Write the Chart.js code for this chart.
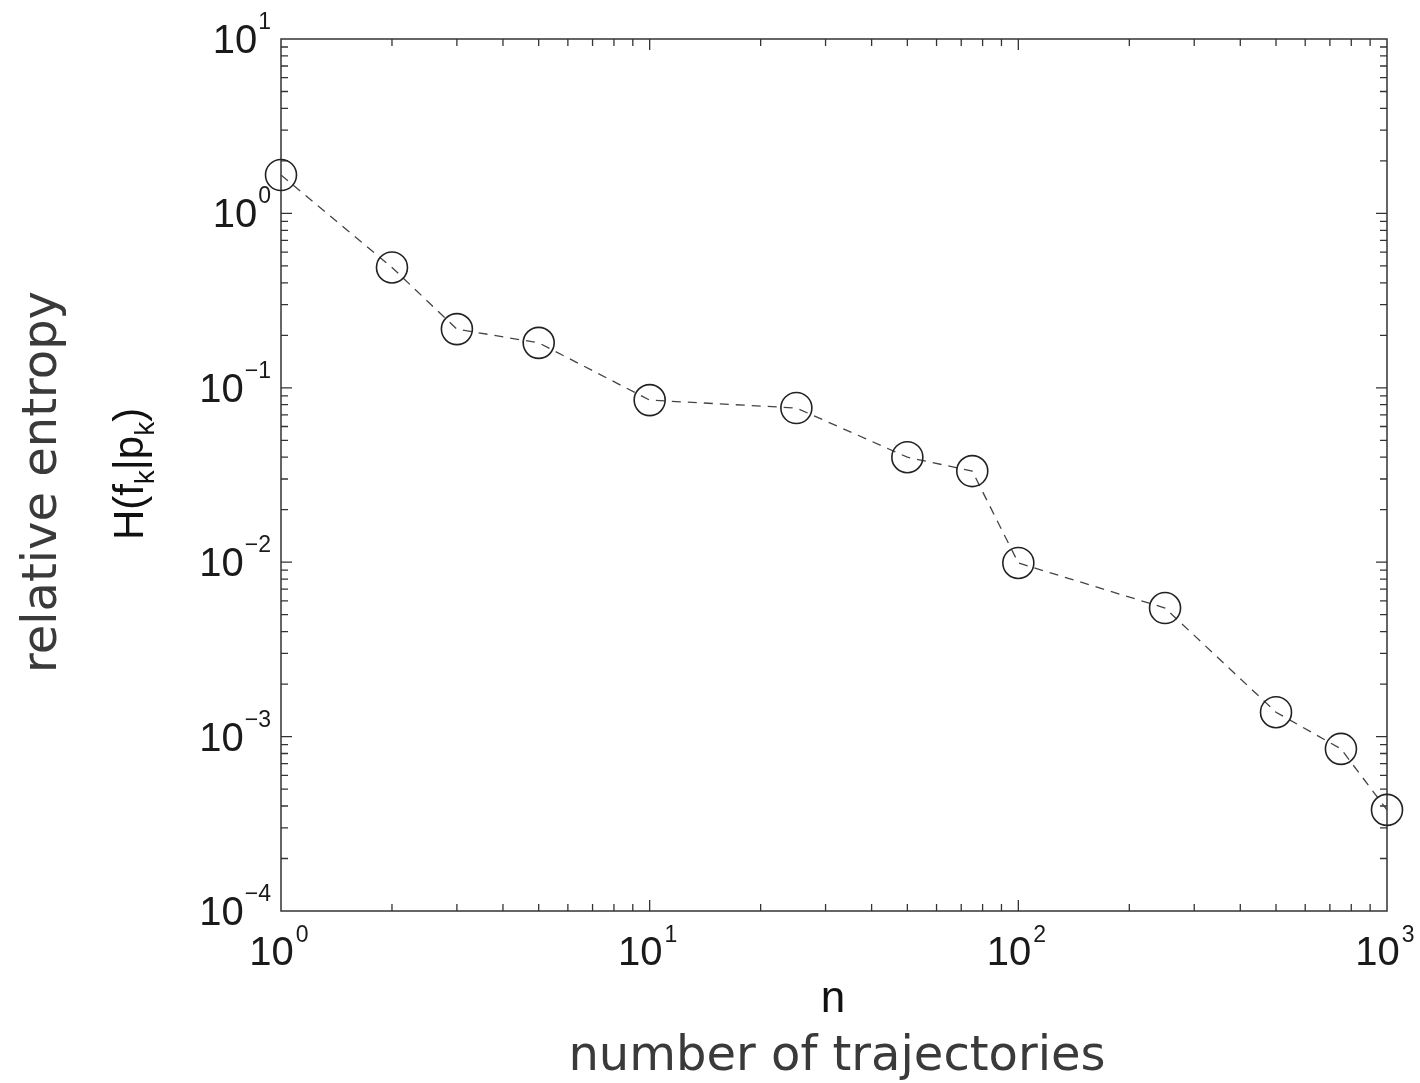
<!DOCTYPE html>
<html>
<head>
<meta charset="utf-8">
<script src="https://cdn.jsdelivr.net/npm/chart.js@4.4.1/dist/chart.umd.min.js"></script>
<style>
  html, body { margin: 0; padding: 0; background: #fff; }
  #wrap { width: 1420px; height: 1083px; }
</style>
</head>
<body>
<div id="wrap"><canvas id="entropy"></canvas></div>
<script>
// values
const nTrajectories = [1, 2, 3, 5, 10, 25, 50, 75, 100, 250, 500, 750, 1000];
const relEntropy = [1.66, 0.49, 0.217, 0.181, 0.085, 0.0766, 0.040, 0.0333, 0.0099, 0.00546, 0.00138, 0.00085, 0.00038];
const xExponents = [0, 1, 2, 3];
const yExponents = [-4, -3, -2, -1, 0, 1];

const tickFont = '"Liberation Sans", Arial, sans-serif';
const titleFont = '"DejaVu Sans", sans-serif';

// box, inward ticks on all four sides, and the 10^k labels
const matlabAxes = {
    id: 'matlabAxes',
    beforeDatasetsDraw(chart) {
        const { ctx, chartArea: a } = chart;
        const xs = chart.scales.x, ys = chart.scales.y;
        ctx.save();
        ctx.strokeStyle = '#333';
        ctx.lineWidth = 1.5;
        ctx.strokeRect(a.left, a.top, a.right - a.left, a.bottom - a.top);
        ctx.lineWidth = 1.3;
        ctx.beginPath();
        for (let e = xExponents[0]; e < xExponents[xExponents.length - 1]; e++) {
            for (let m = 1; m <= 9; m++) {
                if (m === 1 && e === xExponents[0]) continue;
                const px = xs.getPixelForValue(m * Math.pow(10, e));
                const len = m === 1 ? 11 : 7;
                ctx.moveTo(px, a.bottom); ctx.lineTo(px, a.bottom - len);
                ctx.moveTo(px, a.top); ctx.lineTo(px, a.top + len);
            }
        }
        for (let e = yExponents[0]; e < yExponents[yExponents.length - 1]; e++) {
            for (let m = 1; m <= 9; m++) {
                if (m === 1 && e === yExponents[0]) continue;
                const py = ys.getPixelForValue(m * Math.pow(10, e));
                const len = m === 1 ? 11 : 7;
                ctx.moveTo(a.left, py); ctx.lineTo(a.left + len, py);
                ctx.moveTo(a.right, py); ctx.lineTo(a.right - len, py);
            }
        }
        ctx.stroke();
        ctx.restore();
    },
    afterDraw(chart) {
        const { ctx, chartArea: a } = chart;
        const xs = chart.scales.x, ys = chart.scales.y;
        const big = '40px ' + tickFont, small = '23px ' + tickFont;
        ctx.save();
        ctx.fillStyle = '#1a1a1a';
        ctx.textBaseline = 'alphabetic';
        ctx.textAlign = 'left';
        xExponents.forEach(e => {
            const px = xs.getPixelForValue(Math.pow(10, e));
            const exp = String(e).replace('-', '\u2212');
            ctx.font = big; const w1 = ctx.measureText('10').width;
            ctx.font = small; const w2 = ctx.measureText(exp).width;
            const x0 = px - (w1 + w2) / 2 - 3;
            ctx.font = big;
            ctx.fillText('10', x0, a.bottom + 54);
            ctx.font = small;
            ctx.fillText(exp, x0 + w1 + 2, a.bottom + 31);
        });
        yExponents.forEach(e => {
            const py = ys.getPixelForValue(Math.pow(10, e));
            const exp = String(e).replace('-', '\u2212');
            ctx.font = small; const w2 = ctx.measureText(exp).width;
            const right = a.left - 10;
            ctx.fillText(exp, right - w2, py - 10);
            ctx.font = big; const w1 = ctx.measureText('10').width;
            ctx.fillText('10', right - w2 - w1 - 1, py + 14);
        });

        // axis titles
        ctx.textAlign = 'center';
        ctx.fillStyle = '#111';
        ctx.font = '44px ' + tickFont;
        ctx.fillText('n', 833, 1012);
        ctx.fillStyle = '#3a3a3a';
        ctx.font = '48px ' + titleFont;
        ctx.fillText('number of trajectories', 837, 1070);

        ctx.save();
        ctx.translate(56, 482);
        ctx.rotate(-Math.PI / 2);
        ctx.fillText('relative entropy', 0, 0);
        ctx.restore();

        // H(f_k|p_k) with subscripts
        ctx.save();
        ctx.translate(143, 474);
        ctx.rotate(-Math.PI / 2);
        ctx.fillStyle = '#111';
        const parts = [['H(f', false], ['k', true], ['|p', false], ['k', true], [')', false]];
        const pf = p => (p[1] ? '28px ' : '42px ') + tickFont;
        let total = 0;
        parts.forEach(p => { ctx.font = pf(p); total += ctx.measureText(p[0]).width; });
        let cx = -total / 2;
        ctx.textAlign = 'left';
        parts.forEach(p => {
            ctx.font = pf(p);
            ctx.fillText(p[0], cx, p[1] ? 11 : 0);
            cx += ctx.measureText(p[0]).width;
        });
        ctx.restore();
        ctx.restore();
    }
};

new Chart(document.querySelector('#entropy'), {
    type: 'line',
    data: {
        datasets: [{
            label: 'relative entropy',
            data: nTrajectories.map((n, i) => ({ x: n, y: relEntropy[i] })),
            borderColor: '#444',
            borderWidth: 1.3,
            borderDash: [9, 7],
            pointStyle: 'circle',
            pointRadius: 15.5,
            pointBorderWidth: 1.6,
            pointBorderColor: '#222',
            pointBackgroundColor: 'rgba(0,0,0,0)',
            tension: 0,
            clip: false
        }]
    },
    options: {
        responsive: true,
        maintainAspectRatio: false,
        animation: false,
        layout: { padding: { left: 281, right: 33, top: 39, bottom: 172 } },
        plugins: { legend: { display: false }, tooltip: { enabled: false } },
        scales: {
            x: { type: 'logarithmic', min: 1, max: 1000, display: false },
            y: { type: 'logarithmic', min: 1e-4, max: 10, display: false }
        }
    },
    plugins: [matlabAxes]
});
</script>
</body>
</html>
